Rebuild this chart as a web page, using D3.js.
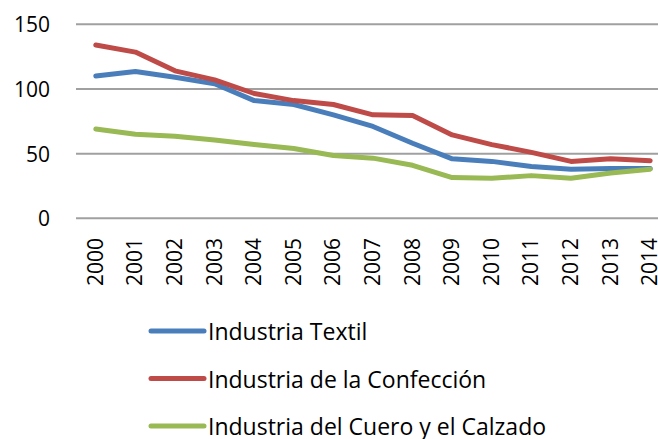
<!DOCTYPE html>
<html lang="es">
<head>
    <meta charset="UTF-8">
    <title>Industria Textil, Confección y Cuero</title>
    <script src="https://d3js.org/d3.v7.min.js"></script>
    <style>
        body {
            margin: 0;
            background-color: white;
            font-family: 'Open Sans', 'Noto Sans', sans-serif;
        }
        .grid line {
            stroke: #a0a0a0;
            stroke-width: 2px;
        }
        .tick-label {
            font-size: 21px;
            fill: #000;
        }
        .legend-label {
            font-size: 23px;
            fill: #000;
        }
    </style>
</head>
<body>
    <div id="chart"></div>

    <script>
        // Data
        const years = ["2000", "2001", "2002", "2003", "2004", "2005", "2006", "2007",
                       "2008", "2009", "2010", "2011", "2012", "2013", "2014"];
        const textil = [110, 113.5, 109, 104, 91, 88, 80, 71, 58, 46, 44, 40, 38, 38.5, 38.5];
        const confeccion = [134, 128.5, 114, 107, 96.5, 91, 88, 80, 79.5, 64.5, 57, 51, 44, 46, 44.5];
        const cuero = [69, 65, 63.5, 60.5, 57, 54, 48.5, 46.5, 41, 31.5, 31, 33, 31, 35, 38];
        const yTicks = [0, 50, 100, 150];

        const series = [
            {name: "Industria Textil", values: textil, color: "#4A7EBB"},
            {name: "Industria de la Confección", values: confeccion, color: "#BE4B48"},
            {name: "Industria del Cuero y el Calzado", values: cuero, color: "#98B954"}
        ];

        const width = 658, height = 439;

        const svg = d3.select("#chart")
            .append("svg")
            .attr("width", width)
            .attr("height", height);

        // Scales
        const x = d3.scalePoint()
            .domain(years)
            .range([76, 670])
            .padding(0.5);

        const y = d3.scaleLinear()
            .domain([0, 150])
            .range([218.3, 24.3]);

        // Gridlines
        svg.append("g")
            .attr("class", "grid")
            .selectAll("line")
            .data(yTicks)
            .enter()
            .append("line")
            .attr("x1", 76)
            .attr("x2", 670)
            .attr("y1", d => y(d))
            .attr("y2", d => y(d));

        // Y axis labels
        svg.append("g")
            .selectAll("text")
            .data(yTicks)
            .enter()
            .append("text")
            .attr("class", "tick-label")
            .attr("x", 50)
            .attr("y", d => y(d))
            .attr("text-anchor", "end")
            .attr("dominant-baseline", "central")
            .text(d => d);

        // X axis labels, rotated
        svg.append("g")
            .selectAll("text")
            .data(years)
            .enter()
            .append("text")
            .attr("class", "tick-label")
            .attr("transform", d => `translate(${x(d) - 1},238) rotate(-90)`)
            .attr("text-anchor", "end")
            .attr("dominant-baseline", "central")
            .text(d => d);

        // Lines
        const line = d3.line()
            .x((d, i) => x(years[i]))
            .y(d => y(d));

        svg.append("g")
            .selectAll("path")
            .data(series)
            .enter()
            .append("path")
            .attr("fill", "none")
            .attr("stroke", d => d.color)
            .attr("stroke-width", 5)
            .attr("stroke-linejoin", "round")
            .attr("stroke-linecap", "round")
            .attr("d", d => line(d.values));

        // Legend
        const legend = svg.append("g")
            .selectAll("g")
            .data(series)
            .enter()
            .append("g")
            .attr("transform", (d, i) => `translate(0,${331 + i * 47.5})`);

        legend.append("line")
            .attr("x1", 151)
            .attr("x2", 204)
            .attr("stroke", d => d.color)
            .attr("stroke-width", 5)
            .attr("stroke-linecap", "round");

        legend.append("text")
            .attr("class", "legend-label")
            .attr("x", 208)
            .attr("dominant-baseline", "central")
            .text(d => d.name);
    </script>
</body>
</html>
